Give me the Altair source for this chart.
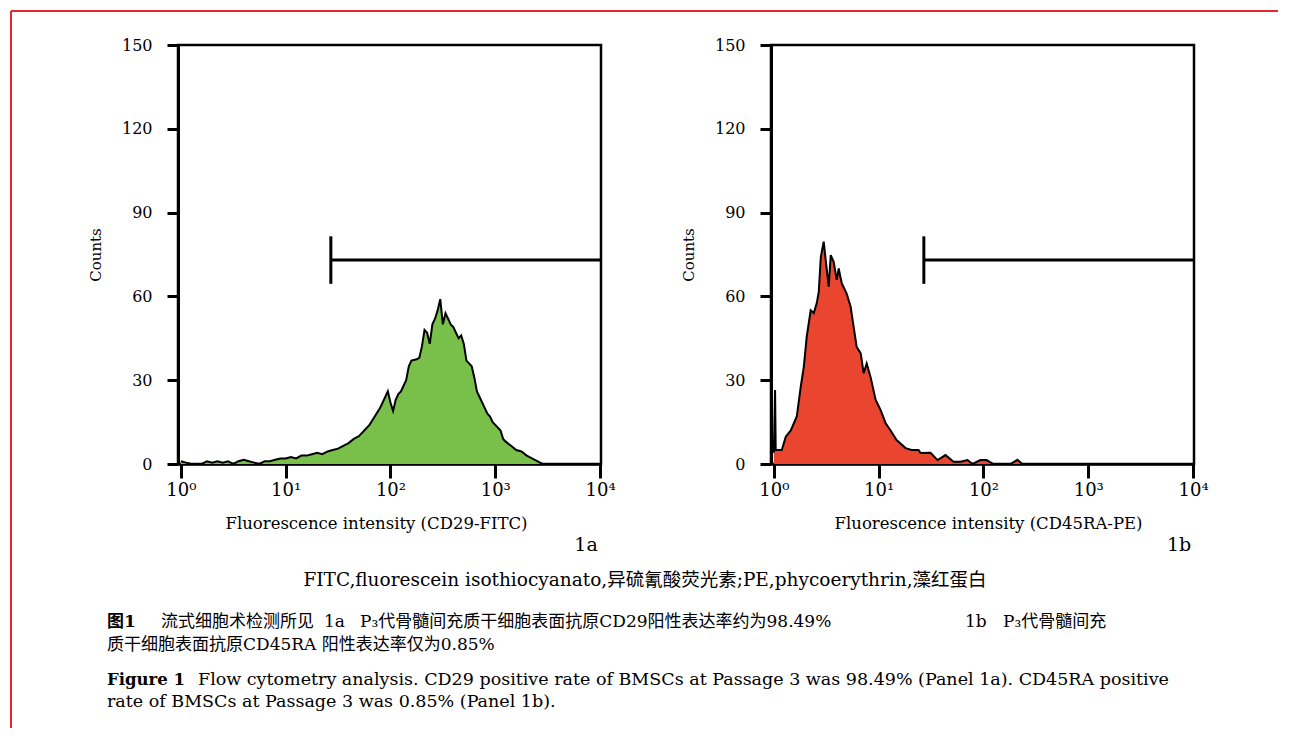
import altair as alt
import pandas as pd

# ---------------- data ----------------
# Panel 1a: CD29-FITC histogram (log10 fluorescence position, counts)
fitc_log = [0.00, 0.05, 0.10, 0.15, 0.20, 0.25, 0.30, 0.35, 0.40, 0.45,
            0.50, 0.55, 0.60, 0.65, 0.70, 0.75, 0.80, 0.85, 0.90, 0.95,
            1.00, 1.05, 1.10, 1.15, 1.20, 1.25, 1.30, 1.35, 1.40, 1.45,
            1.50, 1.55, 1.60, 1.65, 1.70, 1.75, 1.80, 1.85, 1.90, 1.95,
            1.975, 2.00, 2.025, 2.05, 2.075, 2.10, 2.125, 2.15, 2.175, 2.20,
            2.25, 2.275, 2.30, 2.325, 2.35, 2.375, 2.40, 2.425, 2.45, 2.475,
            2.50, 2.525, 2.55, 2.575, 2.60, 2.625, 2.65, 2.675, 2.70, 2.725,
            2.75, 2.775, 2.80, 2.825, 2.85, 2.875, 2.90, 2.925, 2.95, 2.975,
            3.00, 3.05, 3.075, 3.10, 3.15, 3.20, 3.25, 3.30, 3.35, 3.40, 3.45]
fitc_counts = [1, 0.5, 0, 0, 0, 1, 0.5, 1, 0.5, 1,
               0, 1, 1.5, 1, 0.5, 0, 1, 1, 1.5, 2,
               2, 2.5, 2, 3, 3, 3.5, 4, 3.5, 4.5, 5,
               5.5, 6.5, 7.5, 9, 10, 12, 14, 17, 20, 24,
               26, 22, 19, 23, 25, 26, 28, 30, 35, 37,
               37.5, 38, 42, 48, 47, 43, 50, 52, 55, 59,
               50, 54, 52, 50, 49, 47, 45, 46, 43, 37,
               36, 35, 31, 26, 24, 22, 20, 18, 17, 15,
               14, 12, 9, 8, 6.5, 5, 4.5, 3, 2, 1, 0]

# Panel 1b: CD45RA-PE histogram
pe_log = [0.000, 0.012, 0.018, 0.030, 0.076, 0.114, 0.162, 0.219, 0.257, 0.286,
          0.314, 0.352, 0.381, 0.410, 0.429, 0.448, 0.476, 0.495, 0.524, 0.543,
          0.571, 0.600, 0.619, 0.648, 0.695, 0.733, 0.762, 0.790, 0.829, 0.857,
          0.886, 0.924, 0.971, 1.019, 1.067, 1.114, 1.171, 1.257, 1.314, 1.381,
          1.400, 1.495, 1.562, 1.638, 1.714, 1.780, 1.848, 1.895, 1.971, 2.029,
          2.095, 2.257, 2.324, 2.370]
pe_counts = [4, 26.5, 5, 5, 5, 9.8, 12, 17, 27.7, 34.8,
             45.6, 55, 54, 57.6, 61.7, 74, 79.6, 73, 63.5, 74.8,
             72.4, 65.9, 70, 64.7, 61, 56.3, 49, 42, 39.6, 32.5,
             36, 31, 23, 19.3, 14.6, 12, 8.6, 5.7, 5, 5,
             3.9, 4, 1.4, 3.2, 0.8, 0.8, 1.4, 0, 1.4, 1.4,
             0, 0, 1.5, 0]

# gate marker (positive region)
gate_start = [27]
gate_end = [10200]
gate_level = [73]
gate_low = [64.5]
gate_high = [81.5]

y_ticks = [0, 30, 60, 90, 120, 150]
x_ticks = [1, 10, 100, 1000, 10000]
x_tick_labels = ["10⁰", "10¹", "10²", "10³", "10⁴"]
x_domain = [0.94, 10200]
y_domain = [0, 150]

panel_titles = ["Fluorescence intensity (CD29-FITC)", "Fluorescence intensity (CD45RA-PE)"]
panel_tags = ["1a", "1b"]
y_title = "Counts"

cap_note = "FITC,fluorescein isothiocyanato,异硫氰酸荧光素;PE,phycoerythrin,藻红蛋白"
zh_fig = "图1"
zh_parts = ["流式细胞术检测所见", "1a", "P₃代骨髓间充质干细胞表面抗原CD29阳性表达率约为98.49%", "1b", "P₃代骨髓间充"]
zh_line2 = "质干细胞表面抗原CD45RA 阳性表达率仅为0.85%"
en_fig = "Figure 1"
en_line1 = "Flow cytometry analysis.  CD29 positive rate of BMSCs at Passage 3 was 98.49% (Panel 1a).  CD45RA positive"
en_line2 = "rate of BMSCs at Passage 3 was 0.85% (Panel 1b)."

GREEN = "#79c04b"
RED = "#e9452f"
FRAME = "#e8262b"
SERIF = "DejaVu Serif"
MIXED = "DejaVu Serif, Noto Sans CJK SC"

# ---------------- chart ----------------
expr = "'" + x_tick_labels[-1] + "'"
for t, lab in reversed(list(zip(x_ticks[:-1], x_tick_labels[:-1]))):
    expr = f"datum.value < {t * 3.16} ? '{lab}' : " + expr

gate_df = pd.DataFrame({"start": gate_start, "end": gate_end, "level": gate_level,
                        "low": gate_low, "high": gate_high})
one = pd.DataFrame({"k": [0]})


def ctext(text, x, y, bold=False, align="left", size=17):
    return alt.Chart(one).mark_text(
        text=text, font=MIXED, fontSize=size, fontWeight="bold" if bold else "normal",
        align=align, baseline="middle", color="black",
    ).encode(x=alt.value(x), y=alt.value(y))


def decoration_layers():
    zh_x = [-17, 146, 182, 787, 825]
    layers = [ctext(cap_note, 467, 535, align="center", size=18.5)]
    layers.append(ctext(zh_fig, -71, 577, bold=True))
    for txt, xx in zip(zh_parts, zh_x):
        layers.append(ctext(txt, xx, 577))
    layers.append(ctext(zh_line2, -71, 600))
    layers.append(ctext(en_fig, -71, 635, bold=True, size=16.5))
    layers.append(ctext(en_line1, 20, 635, size=17.5))
    layers.append(ctext(en_line2, -71, 657, size=17.5))
    # red page frame (top and left edges)
    layers.append(alt.Chart(one).mark_rule(color=FRAME, strokeWidth=2).encode(
        x=alt.value(-167), y=alt.value(-34), y2=alt.value(683)))
    layers.append(alt.Chart(one).mark_rule(color=FRAME, strokeWidth=2).encode(
        x=alt.value(-167), x2=alt.value(1100), y=alt.value(-34)))
    return layers


def panel(logs, counts, fill, xtitle, title_x, tag, extra=()):
    df = pd.DataFrame({"fl": [10 ** v for v in logs], "count": counts})
    xs = alt.Scale(type="log", domain=x_domain)
    ys = alt.Scale(domain=y_domain)
    xaxis = alt.Axis(values=x_ticks, labelExpr=expr, title=xtitle, titleX=title_x,
                     labelFlush=False, labelOverlap=False)
    yaxis = alt.Axis(values=y_ticks, title=y_title, labelFlush=False, labelOverlap=False)
    area = alt.Chart(df).mark_area(
        color=fill, opacity=1, fillOpacity=1, interpolate="linear", clip=True,
        line={"color": "black", "strokeWidth": 2},
    ).encode(
        x=alt.X("fl:Q", scale=xs, axis=xaxis),
        y=alt.Y("count:Q", scale=ys, axis=yaxis),
    )
    gh = alt.Chart(gate_df).mark_rule(color="black", strokeWidth=3).encode(
        x=alt.X("start:Q", scale=xs, title=xtitle), x2="end:Q",
        y=alt.Y("level:Q", scale=ys, title=y_title),
    )
    gv = alt.Chart(gate_df).mark_rule(color="black", strokeWidth=3).encode(
        x=alt.X("start:Q", scale=xs, title=xtitle),
        y=alt.Y("low:Q", scale=ys, title=y_title), y2="high:Q",
    )
    tg = alt.Chart(pd.DataFrame({"t": [tag]})).mark_text(
        font=SERIF, fontSize=19, align="center", baseline="middle", color="black"
    ).encode(x=alt.value(408), y=alt.value(500), text="t:N")
    return alt.layer(area, gh, gv, tg, *extra).properties(
        width=423, height=419,
        view=alt.ViewBackground(stroke="black", strokeWidth=2.5),
    )


left = panel(fitc_log, fitc_counts, GREEN, panel_titles[0], 198, panel_tags[0],
             extra=decoration_layers())
right = panel(pe_log, pe_counts, RED, panel_titles[1], 217, panel_tags[1])

chart = alt.hconcat(left, right, spacing=170, bounds="flush").properties(
    padding={"left": 0, "top": 0, "right": 0, "bottom": 0}
).configure_axis(
    domainColor="black", domainWidth=3, tickColor="black", tickWidth=3,
    labelColor="black", titleColor="black", labelFont=SERIF, titleFont=SERIF,
    titleFontWeight="normal", grid=False,
).configure_axisY(
    tickSize=11, labelPadding=15, labelFontSize=16, titleFontSize=15, titlePadding=18,
).configure_axisX(
    tickSize=14, labelPadding=3, labelFontSize=18, titleFontSize=16.5, titlePadding=16,
    domainWidth=2.5,
).configure_view(strokeWidth=0)

chart.save("out.html", embed_options={"renderer": "svg", "actions": False})
